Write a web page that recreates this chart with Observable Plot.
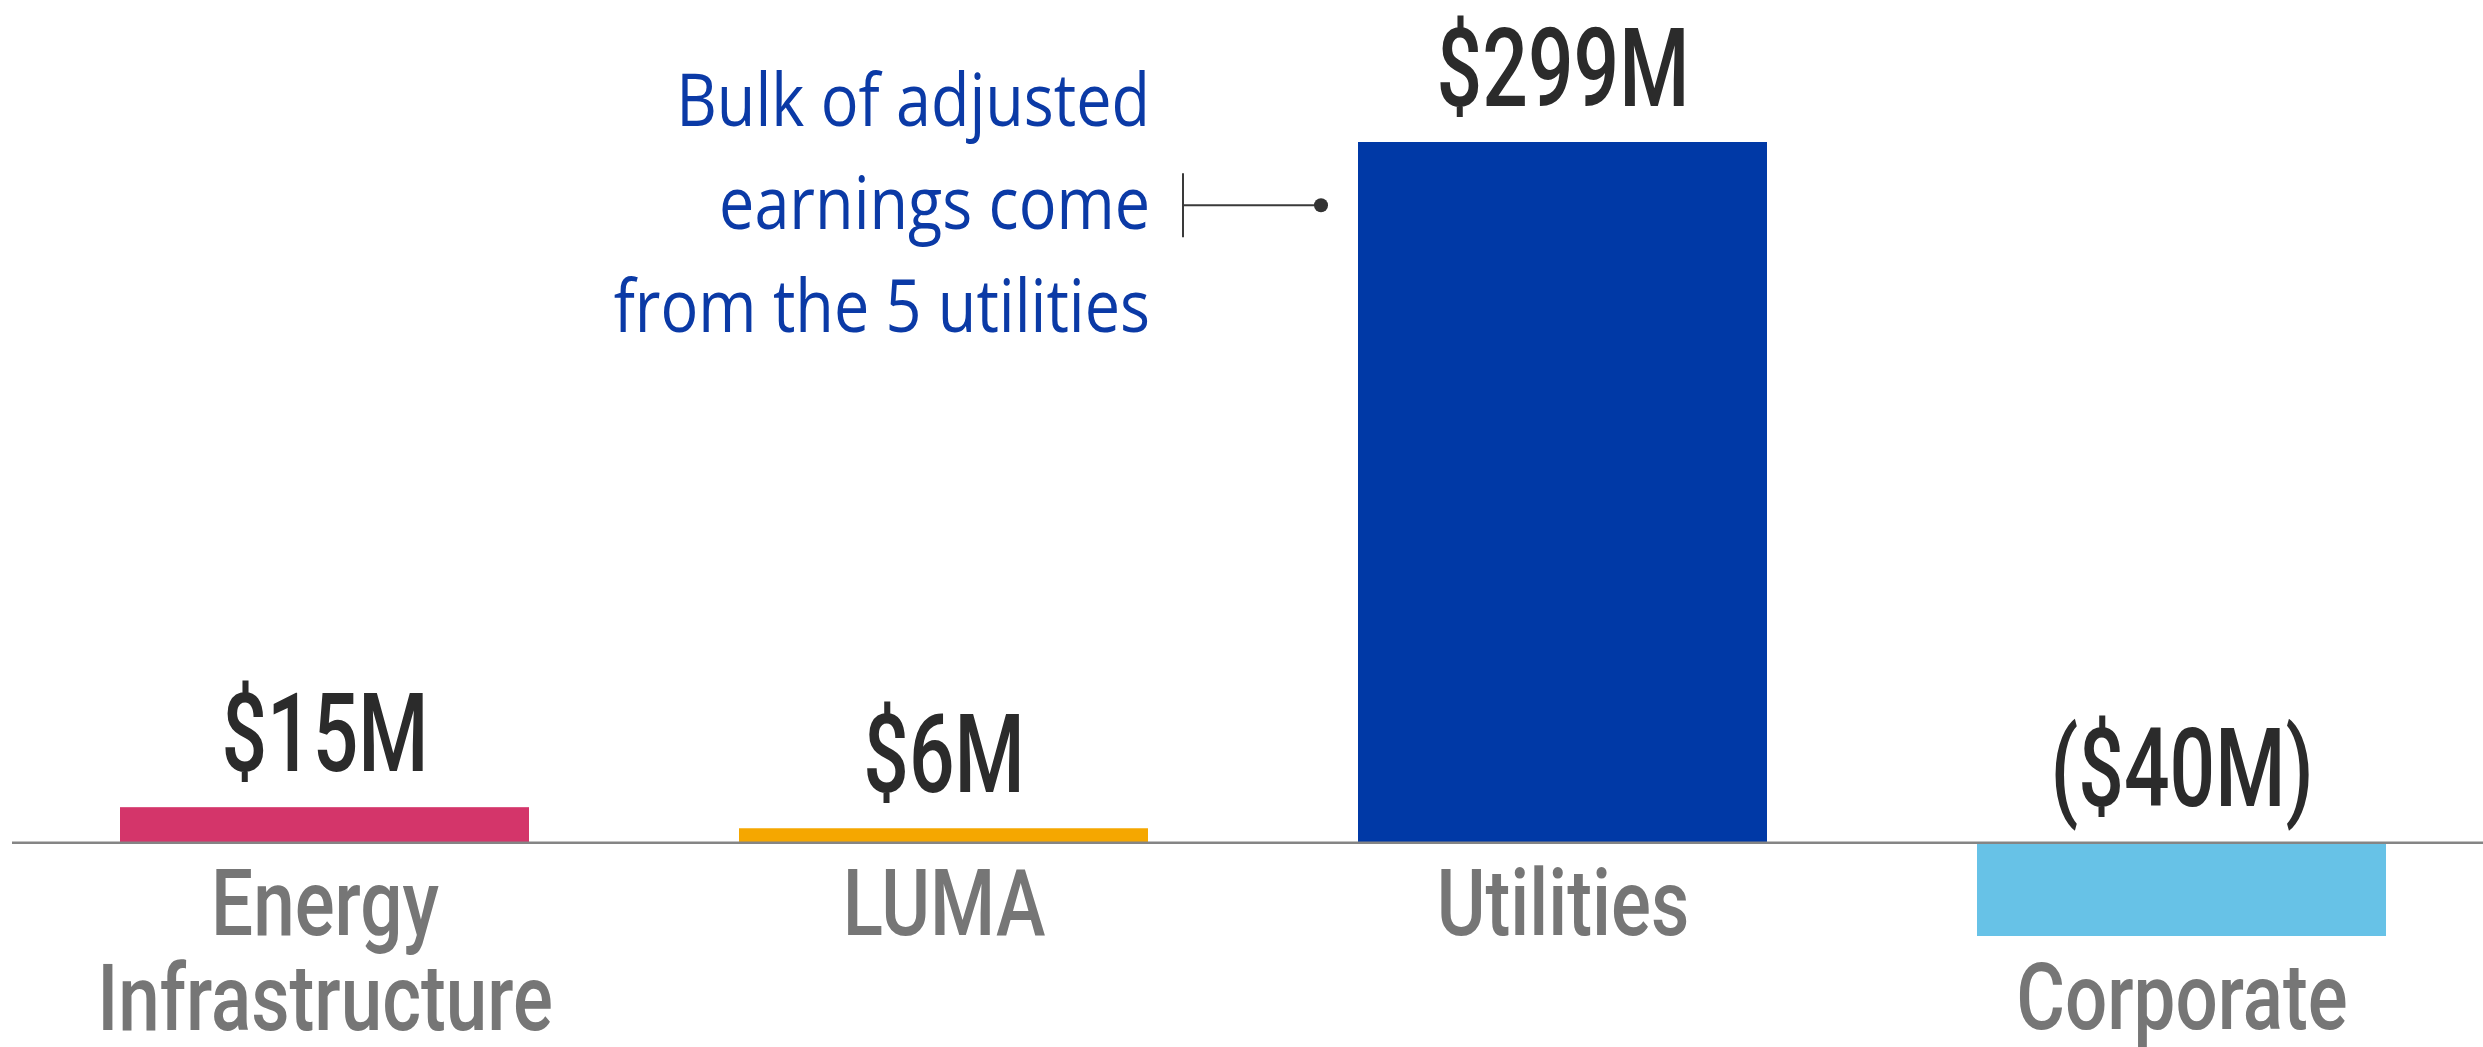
<!DOCTYPE html>
<html><head><meta charset="utf-8">
<script src="https://cdn.jsdelivr.net/npm/d3@7"></script>
<script src="https://cdn.jsdelivr.net/npm/@observablehq/plot@0.6"></script>
<style>
html,body{margin:0;padding:0;background:#fff;}
#chart svg{display:block;}
</style></head><body><div id="chart"></div>
<script>
const categories = ["Energy Infrastructure", "LUMA", "Utilities", "Corporate"];
const categoryLabels = ["Energy\nInfrastructure", "LUMA", "Utilities", "Corporate"];
const values = [15, 6, 299, -40];
const valueLabels = ["$15M", "$6M", "$299M", "($40M)"];
const barColors = ["#d4356a", "#f5a700", "#0039a6", "#67c2e7"];
const annotationText = "Bulk of adjusted\nearnings come\nfrom the 5 utilities";
const annotationTarget = "Utilities";
const annotationValue = 272;

const data = categories.map((c, i) => ({category: c, label: categoryLabels[i], value: values[i], valueLabel: valueLabels[i]}));
const annotation = [{category: annotationTarget, value: annotationValue, text: annotationText}];

const labelFont = "Roboto, 'DejaVu Sans', sans-serif";
const noteFont = "'Open Sans', 'DejaVu Sans', sans-serif";

function connector(index, scales) {
  const {x, y} = scales;
  const x0 = x(annotationTarget);
  const cy = y(annotationValue);
  const g = d3.create("svg:g");
  const dotX = x0 - 37, tickX = x0 - 175;
  g.append("line").attr("x1", tickX).attr("x2", tickX).attr("y1", cy - 32).attr("y2", cy + 32)
    .attr("stroke", "#3a3a3a").attr("stroke-width", 2);
  g.append("line").attr("x1", tickX).attr("x2", dotX).attr("y1", cy).attr("y2", cy)
    .attr("stroke", "#3a3a3a").attr("stroke-width", 2);
  g.append("circle").attr("cx", dotX).attr("cy", cy).attr("r", 7).attr("fill", "#333");
  return g.node();
}

const chart = Plot.plot({
  width: 2483, height: 1047,
  marginLeft: 12, marginRight: 0, marginTop: 142, marginBottom: 111,
  x: {domain: categories, axis: null, paddingInner: 0.339, paddingOuter: 0, insetLeft: 107, insetRight: 95},
  y: {domain: [-40, 299], axis: null},
  color: {domain: categories, range: barColors},
  style: {background: "#fff", overflow: "visible"},
  marks: [
    Plot.barY(data, {x: "category", y: "value", fill: "category"}),
    Plot.ruleY([0], {stroke: "#858585", strokeWidth: 2.5}),
    Plot.text(data, {x: "category", y: d => Math.max(0, d.value), text: "valueLabel", lineAnchor: "bottom", dy: -37,
      fontSize: 110, fontWeight: 500, fill: "#2b2b2b", fontFamily: labelFont}),
    Plot.text(data, {x: "category", y: d => Math.min(0, d.value), text: "label", lineAnchor: "top", dy: 25,
      lineHeight: 1.03, fontSize: 92, fontWeight: 500, fill: "#767676", fontFamily: labelFont}),
    Plot.text(annotation, {x: "category", y: "value", text: "text", textAnchor: "end", lineAnchor: "middle",
      lineHeight: 1.39, fontSize: 74, dx: -413, dy: -10, fill: "#0b3aa6", fontFamily: noteFont}),
    connector
  ]
});
document.getElementById("chart").appendChild(chart);

// condense the label glyphs horizontally around their anchors
const squeeze = [0.73, 0.81, 0.85];
d3.select(chart).selectAll('g[aria-label="text"]').each(function(_, i) {
  d3.select(this).selectAll("text").attr("transform", function() {
    return (this.getAttribute("transform") || "") + ` scale(${squeeze[i]},1)`;
  });
});
</script></body></html>
